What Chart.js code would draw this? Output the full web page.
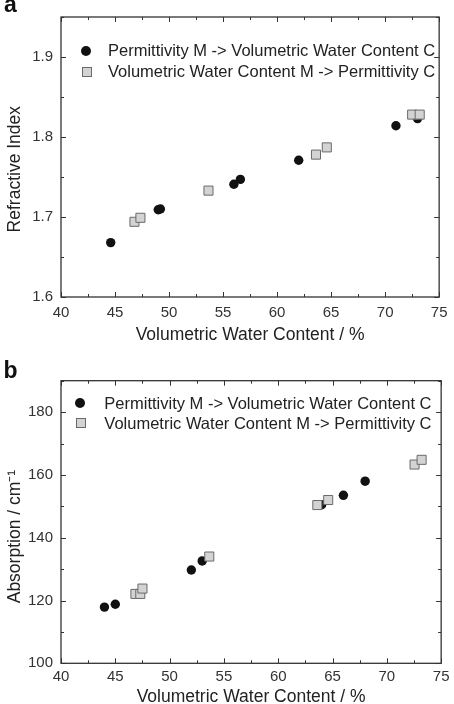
<!DOCTYPE html>
<html>
<head>
  <title>Refractive index and absorption vs volumetric water content</title>
  <style>
    body { margin: 0; background: #fff; font-family: "Liberation Sans", Arial, sans-serif; }
    .panel { position: absolute; left: 0; width: 454px; }
    .panel canvas { position: absolute; left: 0; top: 0; }
    .letter { position: absolute; font-weight: bold; font-size: 23px; line-height: 23px; color: #111; }
    .key { position: absolute; font-size: 16.5px; line-height: 20px; color: #222; white-space: nowrap; }
    .dot { position: absolute; width: 10px; height: 10px; border-radius: 50%; background: #111; }
    .sq { position: absolute; width: 8px; height: 8px; background: #d3d3d3; border: 1px solid #6a6a6a; }
  </style>
</head>
<body>

  <div class="panel" id="pa" style="top:0; height:350px;">
    <canvas id="chartA" width="454" height="350"></canvas>
    <div class="letter" style="left:4px; top:-7px;">a</div>
    <div class="dot" style="left:80.7px; top:45.7px;"></div>
    <div class="key" style="left:108px; top:40.3px;">Permittivity M -&gt; Volumetric Water Content C</div>
    <div class="sq" style="left:81.5px; top:66.5px;"></div>
    <div class="key" style="left:108px; top:61px;">Volumetric Water Content M -&gt; Permittivity C</div>
  </div>

  <div class="panel" id="pb" style="top:350px; height:354px;">
    <canvas id="chartB" width="454" height="354"></canvas>
    <div class="letter" style="left:3.5px; top:9px;">b</div>
    <div class="dot" style="left:75.3px; top:47.7px;"></div>
    <div class="key" style="left:104.3px; top:43px;">Permittivity M -&gt; Volumetric Water Content C</div>
    <div class="sq" style="left:75.8px; top:68.2px;"></div>
    <div class="key" style="left:104.3px; top:63px;">Volumetric Water Content M -&gt; Permittivity C</div>
  </div>

  <script src="https://cdn.jsdelivr.net/npm/chart.js"></script>
  <script>
    // panel a: refractive index
    const aCircleX = [44.6, 49.0, 49.2, 56.0, 56.6, 62.0, 71.0, 73.0];
    const aCircleY = [1.668, 1.709, 1.710, 1.741, 1.747, 1.771, 1.814, 1.823];
    const aSquareX = [46.8, 47.35, 53.65, 63.6, 64.6, 72.5, 73.2];
    const aSquareY = [1.694, 1.699, 1.733, 1.778, 1.787, 1.828, 1.828];

    // panel b: absorption
    const bCircleX = [44.0, 45.0, 52.0, 53.0, 64.0, 66.0, 68.0];
    const bCircleY = [117.9, 118.8, 129.7, 132.6, 150.5, 153.5, 158.0];
    const bSquareX = [46.85, 47.3, 47.5, 53.65, 63.6, 64.6, 72.55, 73.2];
    const bSquareY = [122.1, 122.1, 123.8, 134.0, 150.4, 152.0, 163.3, 164.8];

    const circleLabel = 'Permittivity M -> Volumetric Water Content C';
    const squareLabel = 'Volumetric Water Content M -> Permittivity C';

    const axisColor = '#333';

    function pts(xs, ys) {
      return xs.map((x, i) => ({ x: x, y: ys[i] }));
    }

    // frame on four sides with inward major and minor ticks
    const boxTicks = {
      id: 'boxTicks',
      beforeDatasetsDraw(chart) {
        const { ctx, chartArea: a, scales } = chart;
        const x = scales.x, y = scales.y;
        ctx.save();
        ctx.strokeStyle = axisColor;
        ctx.lineWidth = 1.3;
        ctx.strokeRect(a.left, a.top, a.right - a.left, a.bottom - a.top);
        ctx.lineWidth = 1;
        ctx.beginPath();
        const xStep = x.options.ticks.stepSize, yStep = y.options.ticks.stepSize;
        x.ticks.forEach(t => {
          [[t.value, 5], [t.value + xStep / 2, 3]].forEach(([v, len]) => {
            if (v > x.max + 1e-9) return;
            const px = Math.round(x.getPixelForValue(v)) + 0.5;
            ctx.moveTo(px, a.bottom); ctx.lineTo(px, a.bottom - len);
            ctx.moveTo(px, a.top); ctx.lineTo(px, a.top + len);
          });
        });
        y.ticks.forEach(t => {
          [[t.value, 5], [t.value + yStep / 2, 3]].forEach(([v, len]) => {
            if (v > y.max + 1e-9) return;
            const py = Math.round(y.getPixelForValue(v)) + 0.5;
            ctx.moveTo(a.left, py); ctx.lineTo(a.left + len, py);
            ctx.moveTo(a.right, py); ctx.lineTo(a.right - len, py);
          });
        });
        ctx.stroke();
        ctx.restore();
      }
    };

    function makeChart(id, opt) {
      const ctx = document.getElementById(id).getContext('2d');
      return new Chart(ctx, {
        type: 'scatter',
        data: {
          datasets: [{
            label: circleLabel,
            data: opt.circles,
            pointStyle: 'circle',
            pointRadius: 4.7,
            pointHoverRadius: 4.7,
            backgroundColor: '#111',
            borderColor: '#111',
            borderWidth: 0,
            order: 1
          }, {
            label: squareLabel,
            data: opt.squares,
            pointStyle: 'rect',
            pointRadius: 6.4,
            pointHoverRadius: 6.4,
            backgroundColor: '#d3d3d3',
            borderColor: '#6a6a6a',
            borderWidth: 1,
            order: 0
          }]
        },
        options: {
          responsive: false,
          animation: false,
          devicePixelRatio: 1,
          layout: { padding: { left: 0, right: 9, top: opt.top, bottom: 0 } },
          plugins: { legend: { display: false }, tooltip: { enabled: false } },
          scales: {
            x: {
              type: 'linear',
              min: 40, max: 75,
              grid: { display: false, drawTicks: false },
              border: { display: false },
              ticks: {
                stepSize: 5, autoSkip: false, maxRotation: 0,
                padding: opt.xPad, color: axisColor,
                font: { family: '"Liberation Sans", Arial, sans-serif', size: 15 }
              },
              title: {
                display: true, text: 'Volumetric Water Content / %', color: '#222',
                font: { family: '"Liberation Sans", Arial, sans-serif', size: 17.5, lineHeight: 1 },
                padding: { top: 0, bottom: opt.titlePad }
              },
              afterFit: s => { s.height = opt.h - opt.bottom; }
            },
            y: {
              type: 'linear',
              min: opt.yMin, max: opt.yMax,
              grid: { display: false, drawTicks: false },
              border: { display: false },
              ticks: {
                stepSize: opt.yStep, includeBounds: false,
                padding: 8, color: axisColor,
                font: { family: '"Liberation Sans", Arial, sans-serif', size: 15 },
                callback: v => opt.fmt(v)
              },
              title: {
                display: true, text: opt.yTitle, color: '#222',
                font: { family: '"Liberation Sans", Arial, sans-serif', size: 17.5, lineHeight: 1 },
                padding: { top: 6.5, bottom: 0 }
              },
              afterFit: s => { s.width = 61; }
            }
          }
        },
        plugins: [boxTicks]
      });
    }

    // trailing spaces push the rotated title a little below the middle, as in the original
    makeChart('chartA', {
      circles: pts(aCircleX, aCircleY),
      squares: pts(aSquareX, aSquareY),
      yMin: 1.6, yMax: 1.95, yStep: 0.1,
      fmt: v => v.toFixed(1),
      yTitle: 'Refractive Index     ',
      top: 14, h: 350, bottom: 297, xPad: 6.5, titlePad: 6
    });

    makeChart('chartB', {
      circles: pts(bCircleX, bCircleY),
      squares: pts(bSquareX, bSquareY),
      yMin: 100, yMax: 190, yStep: 20,
      fmt: v => String(Math.round(v)),
      yTitle: 'Absorption / cm\u207B\u00B9      ',
      top: 30.7, h: 354, bottom: 313.3, xPad: 4.5, titlePad: -1.5
    });
  </script>

</body>
</html>
